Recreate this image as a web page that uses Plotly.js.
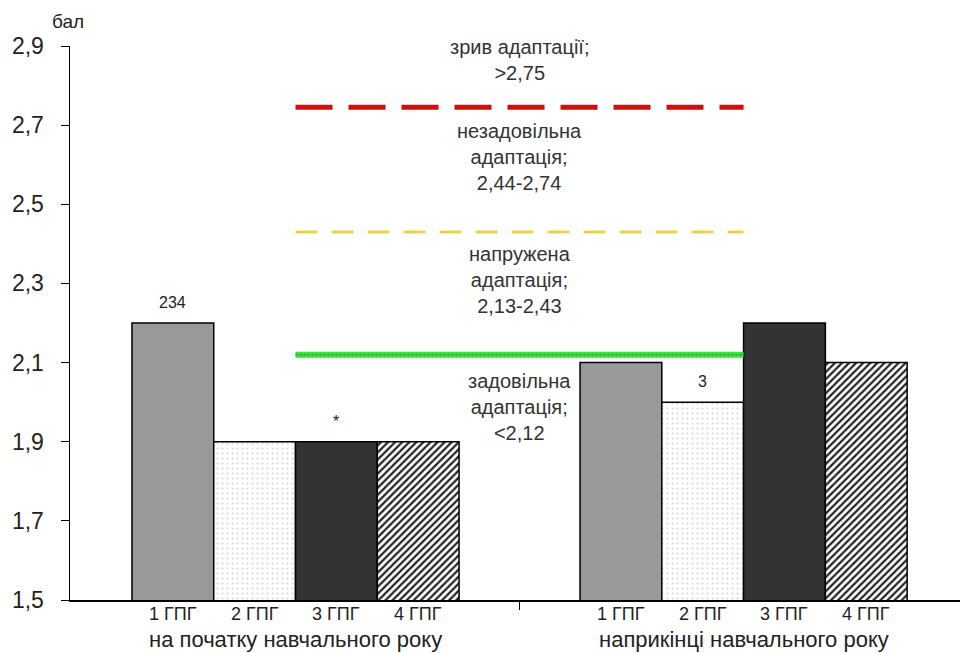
<!DOCTYPE html>
<html>
<head>
<meta charset="utf-8">
<script src="https://cdn.plot.ly/plotly-3.0.1.min.js"></script>
<style>html,body{margin:0;padding:0;background:#fff;}#chart{width:960px;height:653px;}</style>
</head>
<body>
<div id="chart"></div>
<script>
// Data
const periods = ['на початку навчального року', 'наприкінці навчального року'];
const groupNames = ['1 ГПГ', '2 ГПГ', '3 ГПГ', '4 ГПГ'];
const g1 = [2.2, 2.1];
const g2 = [1.9, 2.0];
const g3 = [1.9, 2.2];
const g4 = [1.9, 2.1];
const g1Text = ['234', ''];
const g2Text = ['', '3'];
const g3Text = ['*', ''];
const g4Text = ['', ''];
const thresholds = [2.745, 2.43, 2.12];
const zoneLabels = [
  'зрив адаптації;<br>>2,75',
  'незадовільна<br>адаптація;<br>2,44-2,74',
  'напружена<br>адаптація;<br>2,13-2,43',
  'задовільна<br>адаптація;<br><2,12'
];
const zoneLabelY = [2.865, 2.62, 2.309, 1.988];
const yTicks = [1.5, 1.7, 1.9, 2.1, 2.3, 2.5, 2.7, 2.9];
const yTickText = ['1,5', '1,7', '1,9', '2,1', '2,3', '2,5', '2,7', '2,9'];

const xPos = periods.map((_, i) => i);
const FONT = 'Liberation Sans, Arial, sans-serif';
const outline = {color: '#000', width: 1.5};

function barTrace(vals, color, pattern) {
  return {
    type: 'bar', x: xPos, y: vals,
    marker: {color: color, line: outline, pattern: pattern},
    hoverinfo: 'skip', showlegend: false
  };
}

const traces = [
  barTrace(g1, '#999999', {shape: ''}),
  barTrace(g2, '#ffffff', {shape: '.', fgcolor: '#d4d4d4', bgcolor: '#ffffff', size: 5, solidity: 0.12}),
  barTrace(g3, '#333333', {shape: ''}),
  barTrace(g4, '#ffffff', {shape: '/', fgcolor: '#222222', bgcolor: '#ffffff', size: 5, solidity: 0.45}),
  // threshold lines
  {type: 'scatter', mode: 'lines', x: [0, 1], y: [thresholds[0], thresholds[0]],
   line: {color: '#d40c0c', width: 5, dash: '37px,16px'}, hoverinfo: 'skip', showlegend: false},
  {type: 'scatter', mode: 'lines', x: [0, 1], y: [thresholds[1], thresholds[1]],
   line: {color: '#e8d44c', width: 3, dash: '22px,14px'}, hoverinfo: 'skip', showlegend: false},
  {type: 'scatter', mode: 'lines', x: [0, 1], y: [thresholds[2], thresholds[2]],
   line: {color: '#40e040', width: 6}, hoverinfo: 'skip', showlegend: false},
  {type: 'scatter', mode: 'lines', x: [0, 1], y: [thresholds[2], thresholds[2]],
   line: {color: '#22a822', width: 1.5, dash: '2px,2px'}, hoverinfo: 'skip', showlegend: false}
];

const annotations = [];
const offsets = [-0.27375, -0.09125, 0.09125, 0.27375];
// value labels above bars
const barVals = [g1, g2, g3, g4];
const barTexts = [g1Text, g2Text, g3Text, g4Text];
barVals.forEach((vals, j) => {
  vals.forEach((v, i) => {
    if (barTexts[j][i]) {
      annotations.push({x: xPos[i] + offsets[j], y: v, xref: 'x', yref: 'y', yanchor: 'bottom', yshift: 10,
        text: barTexts[j][i], showarrow: false, font: {family: FONT, size: 16, color: '#222'}});
    }
  });
});
zoneLabels.forEach((t, i) => {
  annotations.push({x: 0.5, y: zoneLabelY[i], xref: 'x', yref: 'y', text: t, showarrow: false,
    yanchor: 'middle', font: {family: FONT, size: 20, color: '#333'}, align: 'center'});
});
// group sub-labels under bars
xPos.forEach((p) => {
  groupNames.forEach((g, j) => {
    annotations.push({x: p + offsets[j], y: 0, xref: 'x', yref: 'paper', yanchor: 'middle', yshift: -13.5, text: g,
      showarrow: false, font: {family: FONT, size: 18, color: '#222'}});
  });
});
periods.forEach((pn, i) => {
  annotations.push({x: i, y: 0, xref: 'x', yref: 'paper', yanchor: 'middle', yshift: -39, text: pn,
    showarrow: false, font: {family: FONT, size: 22, color: '#222'}});
});
annotations.push({x: 0, y: 1, xref: 'paper', yref: 'paper', xanchor: 'left', yanchor: 'bottom',
  xshift: -20, yshift: 12, text: 'бал', showarrow: false, font: {family: FONT, size: 19, color: '#222'}});

const layout = {
  width: 960, height: 653,
  margin: {l: 70, r: 0, t: 46, b: 53},
  paper_bgcolor: '#fff', plot_bgcolor: '#fff',
  barmode: 'group', bargap: 0.27, bargroupgap: 0,
  showlegend: false,
  xaxis: {range: [-0.5033, 1.483], showgrid: false, zeroline: false,
    tickvals: [0.5], ticktext: [''], ticks: 'outside', ticklen: 8, tickcolor: '#000',
    showline: true, linecolor: '#000', linewidth: 1.5, fixedrange: true},
  yaxis: {range: [1.5, 2.9], tickvals: yTicks, ticktext: yTickText, showgrid: false, zeroline: false,
    ticks: 'outside', ticklen: 8, tickcolor: '#000', showline: true, linecolor: '#000', linewidth: 1.5,
    tickfont: {family: FONT, size: 23, color: '#222'}, ticklabelstandoff: 12, fixedrange: true},
  annotations: annotations,
  font: {family: FONT}
};

Plotly.newPlot('chart', traces, layout, {displayModeBar: false, staticPlot: true});
</script>
</body>
</html>
